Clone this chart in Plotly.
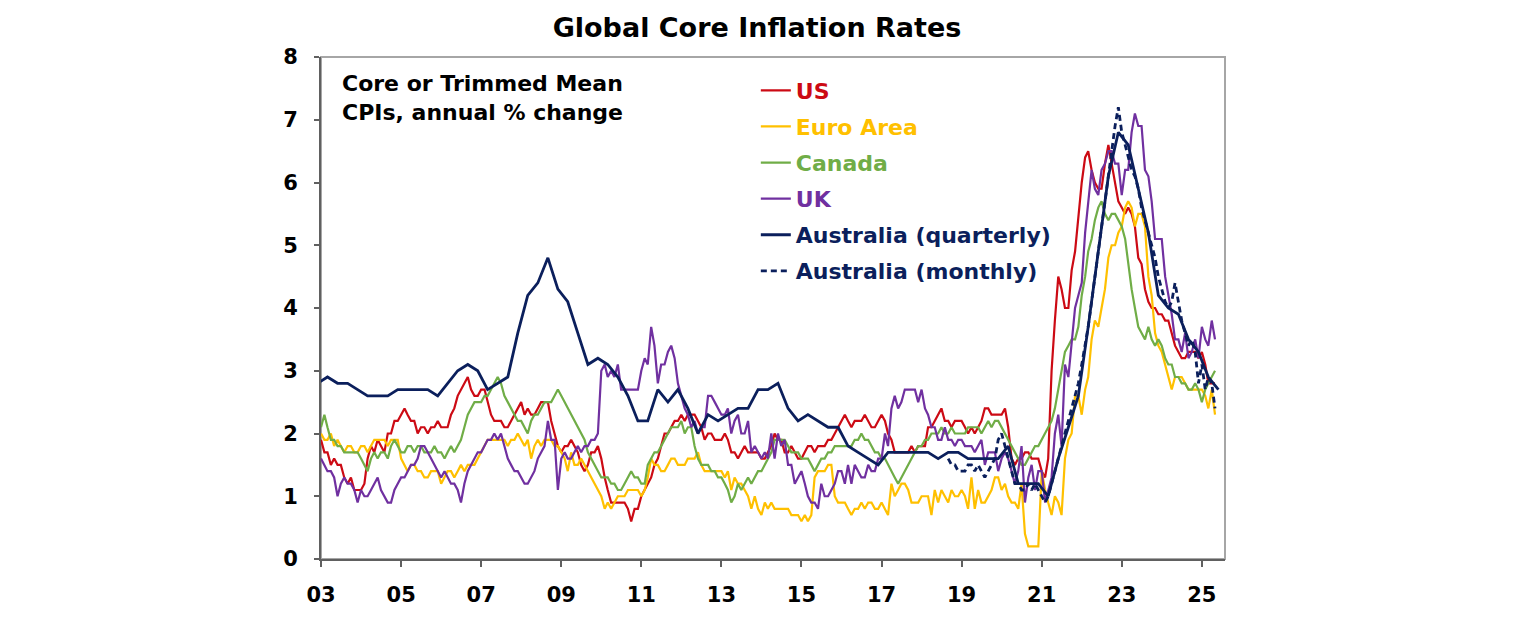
import pandas as pd
import plotly.graph_objects as go

# Core / trimmed mean CPI, annual % change
# monthly series start Jan 2003
us = [
    1.9, 1.7, 1.7, 1.5, 1.6, 1.5, 1.5, 1.3, 1.2, 1.3, 1.1, 1.1,  # 2003
    1.1, 1.2, 1.6, 1.8, 1.7, 1.9, 1.8, 1.7, 2.0, 2.0, 2.2, 2.2,  # 2004
    2.3, 2.4, 2.3, 2.2, 2.2, 2.0, 2.1, 2.1, 2.0, 2.1, 2.1, 2.2,  # 2005
    2.1, 2.1, 2.1, 2.3, 2.4, 2.6, 2.7, 2.8, 2.9, 2.7, 2.6, 2.6,  # 2006
    2.7, 2.7, 2.5, 2.3, 2.2, 2.2, 2.2, 2.1, 2.1, 2.2, 2.3, 2.4,  # 2007
    2.5, 2.3, 2.4, 2.3, 2.3, 2.4, 2.5, 2.5, 2.5, 2.2, 2.0, 1.8,  # 2008
    1.7, 1.8, 1.8, 1.9, 1.8, 1.7, 1.5, 1.4, 1.5, 1.7, 1.7, 1.8,  # 2009
    1.6, 1.3, 1.1, 0.9, 0.9, 0.9, 0.9, 0.9, 0.8, 0.6, 0.8, 0.8,  # 2010
    1.0, 1.1, 1.2, 1.3, 1.5, 1.6, 1.8, 2.0, 2.0, 2.1, 2.2, 2.2,  # 2011
    2.3, 2.2, 2.3, 2.3, 2.3, 2.2, 2.1, 1.9, 2.0, 2.0, 1.9, 1.9,  # 2012
    1.9, 2.0, 1.9, 1.7, 1.7, 1.6, 1.7, 1.8, 1.7, 1.7, 1.7, 1.7,  # 2013
    1.6, 1.6, 1.7, 1.8, 2.0, 1.9, 1.9, 1.7, 1.7, 1.8, 1.7, 1.6,  # 2014
    1.6, 1.7, 1.8, 1.8, 1.7, 1.8, 1.8, 1.8, 1.9, 1.9, 2.0, 2.1,  # 2015
    2.2, 2.3, 2.2, 2.1, 2.2, 2.2, 2.2, 2.3, 2.2, 2.1, 2.1, 2.2,  # 2016
    2.3, 2.2, 2.0, 1.9, 1.7, 1.7, 1.7, 1.7, 1.7, 1.8, 1.7, 1.8,  # 2017
    1.8, 1.8, 2.1, 2.1, 2.2, 2.3, 2.4, 2.2, 2.2, 2.1, 2.2, 2.2,  # 2018
    2.2, 2.1, 2.0, 2.1, 2.0, 2.1, 2.2, 2.4, 2.4, 2.3, 2.3, 2.3,  # 2019
    2.3, 2.4, 2.1, 1.6, 1.5, 1.6, 1.6, 1.7, 1.7, 1.6, 1.6, 1.6,  # 2020
    1.4, 1.3, 1.6, 3.0, 3.8, 4.5, 4.3, 4.0, 4.0, 4.6, 4.9, 5.5,  # 2021
    6.0, 6.4, 6.5, 6.2, 6.0, 5.9, 5.9, 6.3, 6.6, 6.3, 6.0, 5.7,  # 2022
    5.6, 5.5, 5.6, 5.5, 5.3, 4.8, 4.7, 4.3, 4.1, 4.0, 4.0, 3.9,  # 2023
    3.9, 3.8, 3.8, 3.6, 3.4, 3.3, 3.2, 3.2, 3.3, 3.3, 3.3, 3.2,  # 2024
    3.3, 3.1, 2.8, 2.8, 2.8,                                     # 2025
]

euro_area = [
    2.0, 1.9, 1.9, 2.0, 1.8, 1.9, 1.8, 1.7, 1.8, 1.8, 1.7, 1.7,  # 2003
    1.8, 1.8, 1.7, 1.8, 1.9, 1.9, 1.9, 1.9, 1.8, 1.9, 1.9, 1.9,  # 2004
    1.6, 1.5, 1.4, 1.5, 1.5, 1.4, 1.4, 1.3, 1.3, 1.4, 1.4, 1.4,  # 2005
    1.2, 1.3, 1.4, 1.4, 1.3, 1.4, 1.5, 1.4, 1.5, 1.5, 1.5, 1.6,  # 2006
    1.7, 1.8, 1.9, 1.9, 1.9, 1.9, 1.9, 1.9, 1.8, 1.9, 1.9, 2.0,  # 2007
    1.9, 1.8, 1.9, 1.6, 1.8, 1.9, 1.8, 1.9, 1.9, 1.9, 1.8, 1.8,  # 2008
    1.7, 1.6, 1.4, 1.7, 1.5, 1.5, 1.6, 1.5, 1.4, 1.3, 1.2, 1.1,  # 2009
    1.0, 0.8, 0.9, 0.8, 0.9, 1.0, 1.0, 1.0, 1.1, 1.1, 1.1, 1.1,  # 2010
    1.0, 1.1, 1.3, 1.6, 1.5, 1.5, 1.4, 1.4, 1.5, 1.6, 1.6, 1.5,  # 2011
    1.5, 1.5, 1.6, 1.6, 1.6, 1.7, 1.5, 1.4, 1.4, 1.4, 1.4, 1.4,  # 2012
    1.4, 1.3, 1.4, 1.1, 1.3, 1.2, 1.2, 1.1, 1.0, 0.8, 1.0, 0.8,  # 2013
    0.7, 0.9, 0.8, 0.9, 0.8, 0.8, 0.8, 0.8, 0.8, 0.7, 0.7, 0.7,  # 2014
    0.6, 0.7, 0.6, 0.7, 1.3, 1.4, 1.4, 1.4, 1.5, 1.5, 1.0, 0.9,  # 2015
    0.9, 0.9, 0.8, 0.7, 0.8, 0.8, 0.9, 0.8, 0.9, 0.9, 0.8, 0.8,  # 2016
    0.9, 0.8, 0.7, 1.2, 1.0, 1.1, 1.2, 1.2, 1.1, 0.9, 0.9, 0.9,  # 2017
    1.0, 1.0, 1.0, 0.7, 1.1, 0.9, 1.1, 1.0, 0.9, 1.1, 1.0, 1.0,  # 2018
    1.1, 1.0, 0.8, 1.3, 0.8, 1.1, 0.9, 0.9, 1.0, 1.1, 1.3, 1.3,  # 2019
    1.1, 1.2, 1.0, 0.9, 0.9, 0.8, 1.2, 0.4, 0.2, 0.2, 0.2, 0.2,  # 2020
    1.4, 1.1, 0.9, 0.7, 1.0, 0.9, 0.7, 1.6, 1.9, 2.0, 2.6, 2.6,  # 2021
    2.3, 2.7, 2.9, 3.5, 3.8, 3.7, 4.0, 4.3, 4.8, 5.0, 5.0, 5.2,  # 2022
    5.3, 5.6, 5.7, 5.6, 5.3, 5.5, 5.5, 5.3, 4.5, 4.2, 3.6, 3.4,  # 2023
    3.3, 3.1, 2.9, 2.7, 2.9, 2.9, 2.9, 2.8, 2.7, 2.7, 2.7, 2.7,  # 2024
    2.7, 2.6, 2.4, 2.7, 2.3,                                     # 2025
]

canada = [
    2.1, 2.3, 2.1, 1.9, 1.9, 1.8, 1.8, 1.7, 1.7, 1.7, 1.7, 1.7,  # 2003
    1.6, 1.5, 1.4, 1.6, 1.7, 1.6, 1.7, 1.7, 1.6, 1.8, 1.9, 1.8,  # 2004
    1.7, 1.7, 1.8, 1.8, 1.7, 1.8, 1.8, 1.7, 1.7, 1.7, 1.8, 1.7,  # 2005
    1.7, 1.6, 1.7, 1.8, 1.7, 1.8, 1.9, 2.1, 2.3, 2.4, 2.5, 2.5,  # 2006
    2.5, 2.6, 2.6, 2.7, 2.8, 2.9, 2.8, 2.6, 2.5, 2.4, 2.3, 2.2,  # 2007
    2.2, 2.1, 2.0, 2.2, 2.3, 2.3, 2.4, 2.5, 2.5, 2.5, 2.6, 2.7,  # 2008
    2.6, 2.5, 2.4, 2.3, 2.2, 2.1, 2.0, 1.9, 1.7, 1.6, 1.5, 1.4,  # 2009
    1.3, 1.3, 1.3, 1.2, 1.2, 1.1, 1.1, 1.2, 1.3, 1.4, 1.3, 1.3,  # 2010
    1.2, 1.2, 1.5, 1.6, 1.7, 1.7, 1.8, 1.9, 2.0, 2.1, 2.1, 2.1,  # 2011
    2.2, 2.0, 2.1, 2.1, 1.8, 1.6, 1.5, 1.5, 1.5, 1.4, 1.4, 1.3,  # 2012
    1.3, 1.2, 1.1, 0.9, 1.0, 1.2, 1.1, 1.2, 1.3, 1.2, 1.3, 1.4,  # 2013
    1.4, 1.5, 1.6, 1.7, 1.9, 1.9, 1.9, 1.9, 1.8, 1.7, 1.7, 1.7,  # 2014
    1.6, 1.6, 1.6, 1.5, 1.4, 1.5, 1.6, 1.6, 1.7, 1.7, 1.8, 1.8,  # 2015
    1.8, 1.8, 1.8, 1.8, 1.9, 1.9, 2.0, 1.9, 1.9, 1.8, 1.7, 1.7,  # 2016
    1.6, 1.6, 1.5, 1.4, 1.3, 1.2, 1.3, 1.4, 1.5, 1.6, 1.7, 1.8,  # 2017
    1.8, 1.9, 1.9, 2.0, 2.0, 2.0, 2.1, 2.0, 2.0, 2.1, 2.0, 2.0,  # 2018
    2.0, 2.0, 2.1, 2.1, 2.1, 2.1, 2.0, 2.1, 2.2, 2.1, 2.2, 2.2,  # 2019
    2.1, 2.0, 1.9, 1.8, 1.7, 1.6, 1.5, 1.5, 1.6, 1.7, 1.8, 1.8,  # 2020
    1.9, 2.0, 2.1, 2.2, 2.4, 2.7, 3.0, 3.3, 3.4, 3.5, 3.5, 3.7,  # 2021
    4.2, 4.5, 4.9, 5.1, 5.4, 5.6, 5.7, 5.5, 5.4, 5.5, 5.5, 5.4,  # 2022
    5.3, 5.1, 4.7, 4.3, 4.0, 3.7, 3.6, 3.5, 3.7, 3.5, 3.4, 3.5,  # 2023
    3.4, 3.2, 3.1, 3.1, 2.9, 2.9, 2.8, 2.8, 2.7, 2.7, 2.8, 2.7,  # 2024
    2.5, 2.7, 2.8, 2.9, 3.0,                                     # 2025
]

uk = [
    1.6, 1.5, 1.4, 1.4, 1.3, 1.0, 1.2, 1.3, 1.2, 1.2, 1.1, 0.9,  # 2003
    1.1, 1.0, 1.0, 1.1, 1.2, 1.3, 1.1, 1.0, 0.9, 0.9, 1.1, 1.2,  # 2004
    1.3, 1.3, 1.4, 1.5, 1.5, 1.6, 1.8, 1.8, 1.7, 1.6, 1.5, 1.4,  # 2005
    1.3, 1.4, 1.3, 1.2, 1.2, 1.1, 0.9, 1.2, 1.4, 1.5, 1.6, 1.7,  # 2006
    1.7, 1.8, 1.9, 1.9, 2.0, 1.9, 2.0, 1.8, 1.6, 1.5, 1.4, 1.4,  # 2007
    1.3, 1.2, 1.2, 1.3, 1.4, 1.6, 1.7, 1.8, 2.2, 1.9, 1.9, 1.1,  # 2008
    1.6, 1.7, 1.6, 1.6, 1.7, 1.8, 1.7, 1.8, 1.8, 1.9, 1.9, 2.0,  # 2009
    3.0, 3.1, 2.9, 3.0, 2.9, 3.1, 2.7, 2.7, 2.7, 2.7, 2.7, 2.7,  # 2010
    3.0, 3.2, 3.1, 3.7, 3.4, 2.8, 3.1, 3.1, 3.3, 3.4, 3.2, 2.8,  # 2011
    2.6, 2.4, 2.3, 2.1, 2.2, 2.0, 2.1, 2.1, 2.6, 2.6, 2.5, 2.4,  # 2012
    2.3, 2.3, 2.4, 2.0, 2.2, 2.3, 2.0, 2.0, 2.2, 1.7, 1.8, 1.7,  # 2013
    1.6, 1.7, 1.6, 2.0, 1.6, 2.0, 1.8, 1.9, 1.5, 1.5, 1.2, 1.3,  # 2014
    1.4, 1.2, 1.0, 0.9, 0.9, 0.8, 1.2, 1.0, 1.0, 1.1, 1.2, 1.4,  # 2015
    1.4, 1.2, 1.5, 1.2, 1.5, 1.4, 1.3, 1.3, 1.5, 1.4, 1.4, 1.6,  # 2016
    1.6, 2.0, 1.8, 2.4, 2.6, 2.4, 2.5, 2.7, 2.7, 2.7, 2.7, 2.5,  # 2017
    2.7, 2.4, 2.3, 2.1, 2.1, 1.9, 1.9, 2.1, 1.9, 1.9, 1.8, 1.9,  # 2018
    1.9, 1.8, 1.8, 1.8, 1.7, 1.8, 1.9, 1.5, 1.7, 1.7, 1.7, 1.4,  # 2019
    1.6, 1.7, 1.6, 1.4, 1.2, 1.4, 1.8, 0.9, 1.3, 1.5, 1.1, 1.4,  # 2020
    1.4, 0.9, 1.1, 1.3, 2.0, 2.3, 1.8, 3.1, 2.9, 3.4, 4.0, 4.2,  # 2021
    4.4, 5.2, 5.7, 6.2, 5.9, 5.8, 6.2, 6.3, 6.5, 6.5, 6.3, 6.3,  # 2022
    5.8, 6.2, 6.2, 6.8, 7.1, 6.9, 6.9, 6.2, 6.1, 5.7, 5.1, 5.1,  # 2023
    5.1, 4.5, 4.2, 3.9, 3.5, 3.5, 3.3, 3.6, 3.2, 3.3, 3.5, 3.2,  # 2024
    3.7, 3.5, 3.4, 3.8, 3.5,                                     # 2025
]

# quarterly, Dec 2002 to Jun 2025 (plotted at quarter end)
aus_quarterly = [
    2.8,
    2.9, 2.8, 2.8, 2.7,  # 2003
    2.6, 2.6, 2.6, 2.7,  # 2004
    2.7, 2.7, 2.7, 2.6,  # 2005
    2.8, 3.0, 3.1, 3.0,  # 2006
    2.7, 2.8, 2.9, 3.6,  # 2007
    4.2, 4.4, 4.8, 4.3,  # 2008
    4.1, 3.6, 3.1, 3.2,  # 2009
    3.1, 2.9, 2.6, 2.2,  # 2010
    2.2, 2.7, 2.5, 2.7,  # 2011
    2.4, 2.0, 2.3, 2.2,  # 2012
    2.3, 2.4, 2.4, 2.7,  # 2013
    2.7, 2.8, 2.4, 2.2,  # 2014
    2.3, 2.2, 2.1, 2.1,  # 2015
    1.8, 1.7, 1.6, 1.5,  # 2016
    1.7, 1.7, 1.7, 1.7,  # 2017
    1.7, 1.6, 1.7, 1.7,  # 2018
    1.6, 1.6, 1.6, 1.6,  # 2019
    1.8, 1.2, 1.2, 1.2,  # 2020
    1.0, 1.6, 2.1, 2.6,  # 2021
    3.7, 4.9, 6.1, 6.8,  # 2022
    6.6, 5.9, 5.2, 4.2,  # 2023
    4.0, 3.9, 3.5, 3.3,  # 2024
    2.9, 2.7,            # 2025
]

# monthly indicator, Sep 2018 to May 2025
aus_monthly = [
    1.6, 1.5, 1.5, 1.4,                                          # 2018
    1.4, 1.4, 1.5, 1.5, 1.4, 1.5, 1.4, 1.3, 1.4, 1.5, 1.6, 1.9,  # 2019
    2.0, 1.8, 1.6, 1.4, 1.2, 1.2, 1.1, 1.1, 1.2, 1.1, 1.2, 1.1,  # 2020
    1.0, 0.9, 1.0, 1.2, 1.4, 1.6, 1.8, 2.0, 2.2, 2.4, 2.6, 2.8,  # 2021
    3.1, 3.4, 3.7, 4.1, 4.5, 4.9, 5.3, 5.7, 6.1, 6.5, 6.9, 7.2,  # 2022
    6.8, 6.6, 6.4, 6.2, 6.1, 5.9, 5.6, 5.4, 5.2, 5.0, 4.8, 4.5,  # 2023
    4.3, 4.1, 4.0, 4.1, 4.4, 4.1, 3.8, 3.6, 3.4, 3.5, 3.3, 2.8,  # 2024
    3.1, 2.7, 2.9, 2.8, 2.4,                                     # 2025
]

tick_years = list(range(2003, 2026, 2))
tick_labels = [f"{y % 100:02d}" for y in tick_years]

months = pd.date_range("2003-01-01", periods=len(us), freq="MS")
quarters = pd.date_range("2002-12-01", periods=len(aus_quarterly), freq="3MS")
aus_months = pd.date_range("2018-09-01", periods=len(aus_monthly), freq="MS")

FONT = "DejaVu Sans"

series = [
    ("US", months, us, "#CC0A14", 2.2, "solid"),
    ("Euro Area", months, euro_area, "#FFC000", 2.2, "solid"),
    ("Canada", months, canada, "#70AD47", 2.2, "solid"),
    ("UK", months, uk, "#7030A0", 2.2, "solid"),
    ("Australia (quarterly)", quarters, aus_quarterly, "#0B1F5C", 2.8, "solid"),
    ("Australia (monthly)", aus_months, aus_monthly, "#0B1F5C", 2.8, "6px,4px"),
]

fig = go.Figure()
for i, (name, x, y, color, width, dash) in enumerate(series):
    fig.add_trace(go.Scatter(
        x=x,
        y=y,
        mode="lines",
        name=f"<span style='color:{color}'>{name}</span>",
        legendgroup=str(i),
        line=dict(color=color, width=width, dash=dash),
    ))

fig.update_layout(
    width=1536,
    height=630,
    margin=dict(l=321, r=311, t=57, b=71),
    paper_bgcolor="white",
    plot_bgcolor="white",
    font=dict(family=FONT, size=21, color="black", weight="bold"),
    title=dict(
        text="Global Core Inflation Rates",
        font=dict(family=FONT, size=27, color="black", weight="bold"),
        x=757 / 1536, xanchor="center", xref="container",
        y=1 - 28 / 630, yanchor="middle", yref="container",
    ),
    legend=dict(
        x=0.481, y=0.975, xanchor="left", yanchor="top",
        bgcolor="rgba(0,0,0,0)",
        font=dict(family=FONT, size=22, weight="bold"),
        tracegroupgap=4.5,
        itemwidth=30,
    ),
    showlegend=True,
)

fig.update_xaxes(
    type="date",
    range=["2003-01-01", "2025-07-31"],
    tickvals=[f"{y}-01-01" for y in tick_years],
    ticktext=tick_labels,
    tickfont=dict(family=FONT, size=21, color="black", weight="bold"),
    ticks="outside", ticklen=6, tickwidth=1.5, tickcolor="#606060",
    ticklabelstandoff=10,
    showline=True, linecolor="#606060", linewidth=2,
    showgrid=False, zeroline=False,
)
fig.update_yaxes(
    range=[0, 8],
    dtick=1,
    tickfont=dict(family=FONT, size=21, color="black", weight="bold"),
    ticks="outside", ticklen=5, tickwidth=1.5, tickcolor="#606060",
    ticklabelstandoff=12,
    showline=True, linecolor="#606060", linewidth=2,
    showgrid=False, zeroline=False,
)

# light frame on the top and right sides
fig.add_shape(type="rect", xref="paper", yref="paper", x0=0, x1=1, y0=0, y1=1,
              line=dict(color="#A6A6A6", width=2), layer="below")

fig.add_annotation(
    xref="paper", yref="paper", x=0.021, y=0.976,
    xanchor="left", yanchor="top", align="left", showarrow=False,
    text="Core or Trimmed Mean<br>CPIs, annual % change",
    font=dict(family=FONT, size=22, color="black", weight="bold"),
)

# drop the default page margin so the figure sits at the window corner
fig.write_html(
    "out.html",
    config={"displayModeBar": False},
    post_script="document.body.style.margin = '0';",
)
